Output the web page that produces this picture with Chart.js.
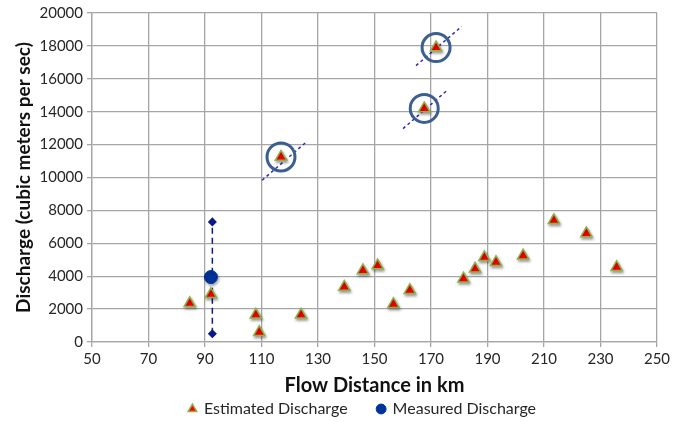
<!DOCTYPE html>
<html>
<head>
<meta charset="utf-8">
<script src="https://cdn.jsdelivr.net/npm/chart.js@4"></script>
<style>
  html, body { margin:0; padding:0; background:#fff; }
  #wrap { width:687px; height:422px; }
</style>
</head>
<body>
<div id="wrap"><canvas id="flowChart" width="687" height="422"></canvas></div>
<script>
// Estimated discharge at each station (km downstream, m3/s)
const distance  = [84.6, 92.1, 108.0, 109.2, 124.0, 139.3, 145.9, 151.1, 156.7, 162.5, 181.5, 185.6, 188.9, 193.0, 202.6, 213.5, 225.0, 235.7, 116.9, 167.6, 171.8];
const estimated = [2350, 2900, 1650, 600, 1650, 3350, 4350, 4650, 2300, 3150, 3850, 4450, 5150, 4850, 5250, 7400, 6600, 4550, 11250, 14200, 17900];

// Gauged value and its range
const measuredX = [92.1];
const measuredY = [3950];
const rangeX = [92.6, 92.6];
const rangeY = [500, 7300];

// Outliers that get circled, with their dashed guide lines
const flaggedX = [116.9, 167.6, 171.8];
const flaggedY = [11250, 14200, 17900];
const guideX = [[110.2, 125.6], [160.1, 176.0], [164.7, 180.9]];
const guideY = [[9830, 12120], [12970, 15340], [16800, 19190]];

const xTicks = [50, 70, 90, 110, 130, 150, 170, 190, 210, 230, 250];
const yTicks = [0, 2000, 4000, 6000, 8000, 10000, 12000, 14000, 16000, 18000, 20000];

const FONT = "Lato";
const gridColor = "#a6a6a6";
const legendOrder = ["Estimated Discharge", "Measured Discharge"];

function pts(xs, ys){ return xs.map((x,i)=>({x:x, y:ys[i]})); }

let datasets = [];

guideX.forEach((gx, i)=>{
    datasets.push({
        label:"guide"+i, data:pts(gx, guideY[i]), showLine:true,
        borderColor:"#2b2bb8", borderWidth:1.5, borderDash:[3,3],
        pointRadius:0, order:5
    });
});

datasets.push({
    label:"range", data:pts(rangeX, rangeY), showLine:true,
    borderColor:"#0a1a8c", borderWidth:1.5, borderDash:[6,4],
    pointStyle:"rectRot", pointRadius:3.5, pointBackgroundColor:"#0a1a8c",
    pointBorderColor:"#0a1a8c", order:4
});

datasets.push({
    label:"Estimated Discharge", data:pts(distance, estimated),
    pointStyle:"triangle", pointRadius:6.5, pointBackgroundColor:"#ff0000",
    pointBorderColor:"#8fb14a", pointBorderWidth:1.5, backgroundColor:"#ff0000",
    borderColor:"#8fb14a", showLine:false, shadow:true, order:3
});

datasets.push({
    label:"Measured Discharge", data:pts(measuredX, measuredY),
    pointStyle:"circle", pointRadius:6.5, pointBackgroundColor:"#00339a",
    pointBorderColor:"#00339a", backgroundColor:"#00339a", borderColor:"#00339a",
    showLine:false, shadow:true, order:2
});

datasets.push({
    label:"flagged", data:pts(flaggedX, flaggedY),
    pointStyle:"circle", pointRadius:14, pointBackgroundColor:"rgba(0,0,0,0)",
    pointBorderColor:"#3b5f8f", pointBorderWidth:3, showLine:false, order:1
});

// soft drop shadow under the markers
const shadowPlugin = {
    id:"markerShadow",
    beforeDatasetDraw(chart, args){
        if(!chart.data.datasets[args.index].shadow) return;
        const ctx = chart.ctx;
        ctx.save();
        ctx.shadowColor = "rgba(0,0,0,0.35)";
        ctx.shadowBlur = 3;
        ctx.shadowOffsetX = 1;
        ctx.shadowOffsetY = 2;
    },
    afterDatasetDraw(chart, args){
        if(!chart.data.datasets[args.index].shadow) return;
        chart.ctx.restore();
    }
};

// nudge the legend row a little to the left of the plot centre
const legendShift = {
    id:"legendShift",
    afterLayout(chart){
        if(!chart.legend) return;
        chart.legend.left -= 12;
        chart.legend.right -= 12;
    }
};

new Chart(document.getElementById("flowChart").getContext("2d"), {
    type:"scatter",
    data:{ datasets:datasets },
    plugins:[shadowPlugin, legendShift],
    options:{
        responsive:false,
        animation:false,
        layout:{ autoPadding:false, padding:{ top:13, right:30, left:0, bottom:-5 } },
        plugins:{
            tooltip:{ enabled:false },
            legend:{
                position:"bottom",
                fullSize:false,
                labels:{
                    usePointStyle:true, boxWidth:7, boxHeight:7, padding:30,
                    color:"#262626", font:{ family:FONT, size:16 },
                    filter:item=>legendOrder.includes(item.text),
                    sort:(a,b)=>legendOrder.indexOf(a.text)-legendOrder.indexOf(b.text)
                }
            }
        },
        scales:{
            x:{
                type:"linear", min:50, max:250,
                afterBuildTicks:scale=>{ scale.ticks = xTicks.map(v=>({value:v})); },
                afterFit:scale=>{ scale.height = 29; scale.paddingLeft = 0; scale.paddingRight = 0; },
                grid:{ color:gridColor, lineWidth:1.3, tickLength:5, tickColor:gridColor },
                border:{ color:gridColor, width:1.3 },
                ticks:{ color:"#262626", font:{ family:FONT, size:15 }, padding:3, maxRotation:0,
                        callback:v=>String(v) },
                title:{ display:true, text:"Flow Distance in km", color:"#111",
                        font:{ family:FONT, size:20, weight:"bold" }, padding:{ top:0, bottom:-27 } }
            },
            y:{
                type:"linear", min:0, max:20000,
                afterBuildTicks:scale=>{ scale.ticks = yTicks.map(v=>({value:v})); },
                afterFit:scale=>{ scale.width = 92; scale.paddingTop = 0; scale.paddingBottom = 0; },
                grid:{ color:gridColor, lineWidth:1.3, tickLength:5, tickColor:gridColor },
                border:{ color:gridColor, width:1.3 },
                ticks:{ color:"#262626", font:{ family:FONT, size:15 }, padding:4,
                        callback:v=>String(v) },
                title:{ display:true, text:"Discharge (cubic meters per sec)", color:"#111",
                        font:{ family:FONT, size:19, weight:"bold" }, padding:{ top:12, bottom:0 } }
            }
        }
    }
});
</script>
</body>
</html>
